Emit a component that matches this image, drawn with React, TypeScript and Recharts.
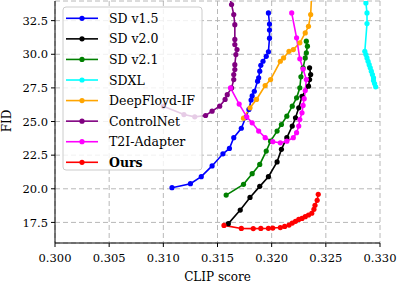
import React from "react";
import { LineChart, Line, XAxis, YAxis, CartesianGrid, Label } from "recharts";

const seriesNames = ["SD v1.5", "SD v2.0", "SD v2.1", "SDXL", "DeepFloyd-IF", "ControlNet", "T2I-Adapter", "Ours"];
const seriesColors = ["#0000ff", "#000000", "#008000", "#00ffff", "#ffa500", "#800080", "#ff00ff", "#ff0000"];

const sd15X = [0.3108, 0.3125, 0.3135, 0.3145, 0.3155, 0.3161, 0.3165, 0.3172, 0.3176, 0.3179, 0.3181, 0.3182, 0.3184, 0.3187, 0.3188, 0.3189, 0.319, 0.3192, 0.3195, 0.3197, 0.3198, 0.3198, 0.3198, 0.3197];
const sd15Y = [20.08, 20.38, 20.9, 21.7, 22.6, 23.0, 23.8, 24.5, 25.3, 25.9, 26.6, 26.9, 27.25, 28.0, 28.25, 28.74, 29.18, 29.48, 29.85, 30.18, 31.2, 31.8, 32.25, 33.07];

const sd20X = [0.316, 0.3171, 0.318, 0.3189, 0.3197, 0.3205, 0.3209, 0.3214, 0.3219, 0.3222, 0.3225, 0.3228, 0.3234, 0.3235, 0.3236, 0.3235];
const sd20Y = [17.41, 18.42, 19.36, 20.18, 20.9, 22.0, 22.93, 23.8, 24.66, 25.28, 26.02, 26.88, 27.63, 28.12, 28.49, 28.99];

const sd21X = [0.3158, 0.3174, 0.3182, 0.3189, 0.3195, 0.3199, 0.3205, 0.3209, 0.3214, 0.3219, 0.3223, 0.3226, 0.3227, 0.3229, 0.3231, 0.3232, 0.3233, 0.3232];
const sd21Y = [19.53, 20.33, 21.12, 21.81, 22.8, 23.54, 24.29, 24.78, 25.4, 26.14, 26.76, 27.51, 28.32, 28.99, 29.73, 30.1, 30.6, 30.97];

const sdxlX = [0.3286, 0.3287, 0.3288, 0.3288, 0.3286, 0.3287, 0.3288, 0.3289, 0.329, 0.3291, 0.3292, 0.3293, 0.3294, 0.3294, 0.3295, 0.3296];
const sdxlY = [34.5, 33.82, 33.07, 32.28, 30.22, 29.98, 29.73, 29.48, 29.23, 28.99, 28.74, 28.49, 28.25, 28.05, 27.82, 27.58];

const dfX = [0.3174, 0.318, 0.3186, 0.3194, 0.3199, 0.3208, 0.3211, 0.3216, 0.322, 0.3226, 0.3231, 0.3234, 0.3236, 0.3237];
const dfY = [25.25, 26.02, 26.64, 27.68, 28.12, 29.48, 29.73, 30.22, 30.35, 30.85, 31.59, 32.08, 32.95, 34.6];

const cnX = [0.31, 0.3119, 0.3129, 0.3139, 0.3145, 0.3152, 0.3157, 0.3159, 0.3163, 0.3165, 0.3165, 0.3166, 0.3166, 0.3167, 0.3168, 0.3166, 0.3166, 0.3166, 0.3165, 0.3163, 0.3159];
const cnY = [26.14, 25.52, 25.35, 25.45, 25.77, 26.14, 26.64, 27.0, 27.5, 28.12, 28.49, 28.86, 29.23, 29.98, 30.35, 30.72, 31.1, 32.2, 32.95, 33.7, 34.8];

const t2iX = [0.3162, 0.317, 0.3177, 0.3182, 0.3188, 0.3194, 0.3201, 0.3208, 0.3214, 0.322, 0.3223, 0.3225, 0.3226, 0.3228, 0.3229, 0.323, 0.3231, 0.3232, 0.3229, 0.3226, 0.3223, 0.32185];
const t2iY = [27.5, 26.3, 25.35, 24.9, 24.29, 23.8, 23.5, 23.42, 23.54, 23.8, 24.17, 24.66, 25.15, 25.65, 26.2, 26.7, 27.3, 28.12, 28.9, 29.66, 31.22, 33.07];

const oursX = [0.3156, 0.3172, 0.3183, 0.319, 0.3197, 0.3201, 0.3208, 0.3212, 0.3216, 0.3219, 0.3222, 0.3225, 0.3228, 0.3231, 0.3234, 0.3237, 0.3239, 0.324, 0.3242, 0.3243];
const oursY = [17.28, 17.05, 17.04, 17.05, 17.06, 17.08, 17.12, 17.2, 17.3, 17.45, 17.58, 17.72, 17.8, 17.93, 18.05, 18.18, 18.47, 18.77, 19.14, 19.59];

const xTicks = [0.3, 0.305, 0.31, 0.315, 0.32, 0.325, 0.33];
const yTicks = [17.5, 20.0, 22.5, 25.0, 27.5, 30.0, 32.5];

const allX = [sd15X, sd20X, sd21X, sdxlX, dfX, cnX, t2iX, oursX];
const allY = [sd15Y, sd20Y, sd21Y, sdxlY, dfY, cnY, t2iY, oursY];

const toPoints = (xs: number[], ys: number[]) => xs.map((x, i) => ({ x, y: ys[i] }));

const FONT = "'DejaVu Serif', serif";

export default function App() {
  const W = 397;
  const H = 285;
  const legendLeft = 63;
  const legendTop = 7;
  const rowH = 20.57;
  return (
    <div style={{ position: "absolute", left: 0, top: 0, width: W, height: H, background: "#fff" }}>
      <LineChart width={W} height={H} margin={{ top: 1, right: 17, left: 0, bottom: 0 }}>
        <CartesianGrid stroke="#b0b0b0" strokeDasharray="5 3" strokeWidth={0.9} />
        <XAxis
          dataKey="x"
          type="number"
          domain={[0.3, 0.33]}
          ticks={xTicks}
          allowDataOverflow
          height={42}
          tickSize={4}
          tickMargin={7}
          tickFormatter={(v: number) => v.toFixed(3)}
          tick={{ fill: "#000", fontFamily: FONT, fontSize: 11.5 }}
          axisLine={{ stroke: "#000", strokeWidth: 1 }}
          tickLine={{ stroke: "#000" }}
        >
          <Label value="CLIP score" position="insideBottom" offset={4} style={{ fill: "#000", fontFamily: FONT, fontSize: 12 }} />
        </XAxis>
        <XAxis xAxisId="top" orientation="top" type="number" domain={[0.3, 0.33]} height={0} tick={false} tickLine={false} axisLine={{ stroke: "#000", strokeWidth: 1 }} />
        <YAxis
          type="number"
          domain={[15.97, 33.96]}
          ticks={yTicks}
          allowDataOverflow
          width={55}
          tickSize={4}
          tickMargin={3}
          tickFormatter={(v: number) => v.toFixed(1)}
          tick={{ fill: "#000", fontFamily: FONT, fontSize: 11.5 }}
          axisLine={{ stroke: "#000", strokeWidth: 1 }}
          tickLine={{ stroke: "#000" }}
        />
        <YAxis yAxisId="right" orientation="right" type="number" domain={[15.97, 33.96]} width={0} tick={false} tickLine={false} axisLine={{ stroke: "#000", strokeWidth: 1 }} />
        {seriesNames.map((name, i) => (
          <Line
            key={name}
            name={name}
            data={toPoints(allX[i], allY[i])}
            dataKey="y"
            stroke={seriesColors[i]}
            strokeWidth={1.6}
            dot={{ r: 2.6, fill: seriesColors[i], stroke: seriesColors[i], strokeWidth: 0 }}
            activeDot={false}
            isAnimationActive={false}
          />
        ))}
      </LineChart>
      <svg width={W} height={H} style={{ position: "absolute", left: 0, top: 0, pointerEvents: "none" }}>
        <text transform="translate(11,121) rotate(-90)" textAnchor="middle" fontFamily={FONT} fontSize={12} fill="#000">
          FID
        </text>
        <rect x={legendLeft} y={legendTop} width={139} height={163} rx={3} ry={3} fill="rgba(255,255,255,0.8)" stroke="#cccccc" strokeWidth={1} />
        {seriesNames.map((name, i) => {
          const cy = legendTop + 11.3 + i * rowH;
          return (
            <g key={name}>
              <line x1={66} x2={98} y1={cy} y2={cy} stroke={seriesColors[i]} strokeWidth={1.6} />
              <circle cx={82} cy={cy} r={2.6} fill={seriesColors[i]} />
              <text x={109} y={cy} dy="0.36em" fontFamily={FONT} fontSize={12.5} fontWeight={name === "Ours" ? "bold" : "normal"} fill="#000">
                {name}
              </text>
            </g>
          );
        })}
      </svg>
    </div>
  );
}
